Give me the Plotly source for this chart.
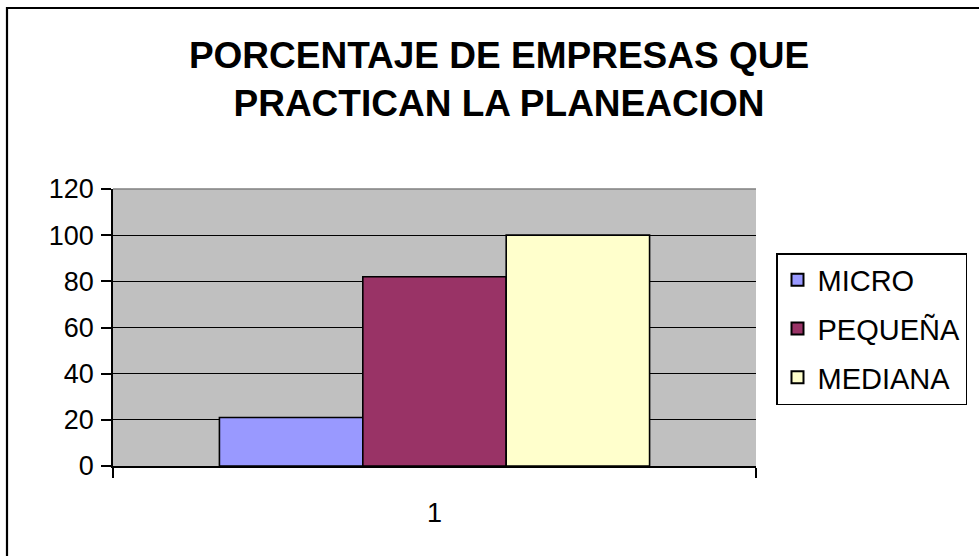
import plotly.graph_objects as go

categories = ["1"]
series_names = ["MICRO", "PEQUEÑA", "MEDIANA"]
series_values = [[21], [82], [100]]
series_colors = ["#9999FF", "#993366", "#FFFFCC"]
y_ticks = [0, 20, 40, 60, 80, 100, 120]

W, H = 979, 556
L, R, T, B = 113, 756, 189, 466  # plot area in px

fig = go.Figure()
for i, (name, vals, col) in enumerate(zip(series_names, series_values, series_colors)):
    fig.add_trace(go.Bar(
        x=categories, y=vals, name=name,
        marker=dict(color=col, line=dict(color="black", width=1.6)),
        legendgroup=f"g{i}",
    ))

font_family = "Arial, 'Liberation Sans', sans-serif"

def px_x(px):
    return (px - L) / (R - L)

def px_y(py):
    return (B - py) / (B - T)

fig.update_layout(
    width=W, height=H,
    margin=dict(l=L, r=W - R, t=T, b=H - B, autoexpand=False),
    paper_bgcolor="white",
    plot_bgcolor="#C0C0C0",
    barmode="group",
    bargap=0.331,
    bargroupgap=0,
    font=dict(family=font_family, size=27, color="black"),
    title=dict(
        text="<b>PORCENTAJE DE EMPRESAS QUE<br>PRACTICAN LA PLANEACION</b>",
        x=499 / W, xref="container", xanchor="center",
        y=1 - 68 / H, yref="container", yanchor="top",
        font=dict(family=font_family, size=37, color="black"),
    ),
    showlegend=True,
    legend=dict(
        x=px_x(776), y=px_y(253), xanchor="left", yanchor="top",
        xref="paper", yref="paper",
        bgcolor="white", bordercolor="black", borderwidth=1.5,
        font=dict(family=font_family, size=29, color="black"),
        tracegroupgap=8,
        itemsizing="constant",
        entrywidth=190, entrywidthmode="pixels",
    ),
    xaxis=dict(
        type="category",
        range=[-0.5, 0.5],
        showline=True, linecolor="black", linewidth=1.5,
        ticks="outside", tickson="boundaries", ticklen=10,
        tickcolor="black", tickwidth=1.5,
        showgrid=False,
        ticklabelstandoff=22,
        tickfont=dict(size=27),
    ),
    yaxis=dict(
        range=[0, 120],
        tickvals=y_ticks,
        showline=True, linecolor="black", linewidth=1.5,
        ticks="outside", ticklen=10, tickcolor="black", tickwidth=1.5,
        showgrid=True, gridcolor="black", gridwidth=1.2,
        zeroline=False,
        tickfont=dict(size=27),
        ticklabelstandoff=2,
    ),
    shapes=[
        dict(type="rect", xref="paper", yref="paper",
             x0=px_x(7), x1=px_x(1000), y0=px_y(580), y1=px_y(8),
             line=dict(color="black", width=2.2), fillcolor="rgba(0,0,0,0)",
             layer="above"),
        dict(type="line", xref="paper", yref="paper",
             x0=0, x1=1, y0=1, y1=1,
             line=dict(color="#808080", width=1.5), layer="below"),
    ],
)

fig.write_html(
    "out.html",
    config={"displayModeBar": False},
    post_script="document.body.style.margin='0';document.body.style.overflow='hidden';",
)
